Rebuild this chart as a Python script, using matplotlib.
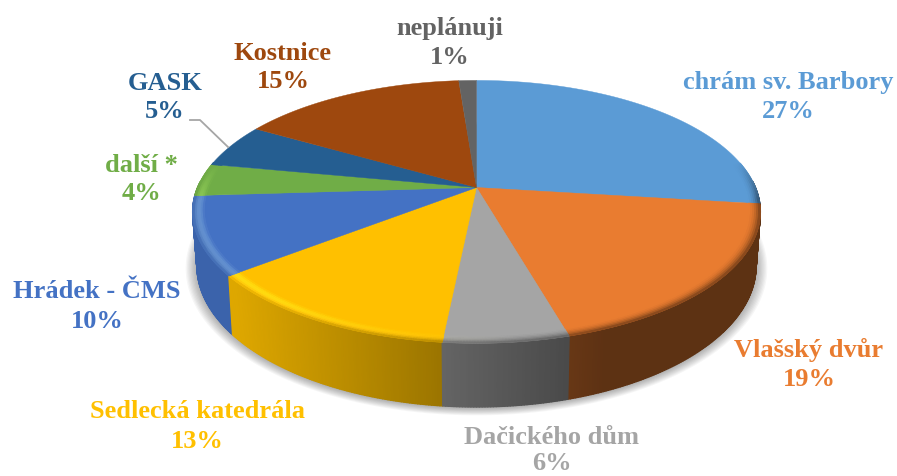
# plot.py
# 3D look pie chart of planned visits, drawn with plain polygons in pixel coordinates.

import numpy as np
import matplotlib
matplotlib.use('Agg')
import matplotlib.pyplot as plt
from matplotlib.collections import PolyCollection
from matplotlib.colors import to_rgb
from matplotlib.patches import Polygon

names = ['chrám sv. Barbory', 'Vlašský dvůr', 'Dačického dům', 'Sedlecká katedrála',
         'Hrádek - ČMS', 'další *', 'GASK', 'Kostnice', 'neplánuji']
# slice sizes, the labels show them rounded
shares = [27.0, 18.6, 6.0, 12.8, 9.6, 4.0, 5.4, 15.4, 1.2]
percent_labels = ['27%', '19%', '6%', '13%', '10%', '4%', '5%', '15%', '1%']
colors = ['#5B9BD5', '#E97C30', '#A5A5A5', '#FFC000', '#4472C4',
          '#70AD47', '#255E91', '#9E480E', '#636363']
label_x = [788, 809, 552, 197, 97, 141, 165, 283, 450]
label_y = [82, 349, 437, 411, 291, 164, 82, 52, 27]

# perspective of the disc, in pixels
CX, CY = 476.5, 187.5
RX, RY = 279, 126.9
K = 0.185
DEPTH = 52
BOTTOM_SCALE = 0.985


def project(theta, r=1.0):
    """Projects a point of the pie disc (clockwise from the top) onto the image."""
    x = r * np.sin(theta)
    y = r * np.cos(theta)
    d = 1 + K * y
    return CX + RX * x / d, CY - RY * y / d


def lower(theta):
    """Same point on the lower edge of the side wall."""
    x, y = project(theta)
    d = 1 + K * np.cos(theta)
    return CX + (x - CX) * BOTTOM_SCALE, y + DEPTH / d


def side_factor(x):
    return np.clip(0.87 - (x - 235) * 0.42 / 330, 0.4, 0.87)


def draw_wedge_side(ax, t0, t1, base):
    ts = np.linspace(t0, t1, max(int((t1 - t0) * 120), 2) + 1)
    quads, cols = [], []
    for a, b in zip(ts[:-1], ts[1:]):
        # the back of the wall is hidden behind the top
        if np.cos((a + b) / 2) > 0.05:
            continue
        xa, ya = project(a)
        xb, yb = project(b)
        xc, yc = lower(b)
        xd, yd = lower(a)
        quads.append([(xa, ya), (xb, yb), (xc, yc), (xd, yd)])
        cols.append(base * side_factor((xa + xb) / 2))
    ax.add_collection(PolyCollection(quads, facecolors=cols, edgecolors=cols, linewidths=0.9, zorder=3))


def draw_wedge_rim(ax, t0, t1, base):
    ts = np.linspace(t0, t1, max(int((t1 - t0) * 120), 2) + 1)
    bands = np.linspace(0.96, 1.0, 7)
    quads, cols = [], []
    for a, b in zip(ts[:-1], ts[1:]):
        mid = (a + b) / 2
        weight = np.clip((0.2 - np.cos(mid)) / 0.3, 0, 1)
        if weight == 0:
            continue
        for r0, r1 in zip(bands[:-1], bands[1:]):
            t = ((r0 + r1) / 2 - bands[0]) / (bands[-1] - bands[0])
            xm, _ = project(mid)
            target = base * side_factor(xm)
            glow = np.clip((520 - xm) / 250, 0, 1)
            c = base + (target - base) * t ** 2 * 0.8
            c = c + glow * 0.13 * np.sin(np.pi * t) * np.array([1, 1, 0.5])
            c = base + (c - base) * weight
            quads.append([project(a, r0), project(b, r0), project(b, r1), project(a, r1)])
            cols.append(np.clip(c, 0, 1))
    ax.add_collection(PolyCollection(quads, facecolors=cols, edgecolors=cols, linewidths=0.6, zorder=5))


def main():
    fig = plt.figure(figsize=(8.97, 4.76), dpi=100)
    ax = fig.add_axes([0, 0, 1, 1])
    ax.set_xlim(0, 897)
    ax.set_ylim(476, 0)
    ax.axis('off')

    edges = 2 * np.pi * np.cumsum([0] + shares) / sum(shares)

    # soft shadow under the pie
    around = np.linspace(0, 2 * np.pi, 240)
    bx, by = lower(around)
    for grow in np.linspace(1.0, 1.04, 10):
        pts = np.column_stack([CX + (bx - CX) * grow, CY + 35 + (by - CY - 35) * grow + 1])
        ax.add_patch(Polygon(pts, closed=True, facecolor='#000000', edgecolor='none', alpha=0.035, zorder=1))

    # walls from the back to the front, so nearer slices cover the farther ones
    order = np.argsort(-np.cos((edges[:-1] + edges[1:]) / 2))
    for i in order:
        draw_wedge_side(ax, edges[i], edges[i + 1], np.array(to_rgb(colors[i])))

    for i, color in enumerate(colors):
        ts = np.linspace(edges[i], edges[i + 1], 80)
        xs, ys = project(ts)
        pts = np.column_stack([np.r_[CX, xs], np.r_[CY, ys]])
        ax.add_patch(Polygon(pts, closed=True, facecolor=color, edgecolor=color, linewidth=0.3, zorder=4))
        draw_wedge_rim(ax, edges[i], edges[i + 1], np.array(to_rgb(color)))

    # leader line of the GASK label
    ax.plot([190, 200, 228], [120, 120, 147], color='#A6A6A6', linewidth=1.3, zorder=6)

    for name, pct, color, x, y in zip(names, percent_labels, colors, label_x, label_y):
        ax.text(x, y + 1, name, color=color, ha='center', va='center', fontsize=19,
                fontweight='bold', family='Liberation Serif', zorder=7)
        # keep the lowest label inside the picture
        ax.text(x, min(y + 30, 463), pct, color=color, ha='center', va='center', fontsize=19,
                fontweight='bold', family='Liberation Serif', zorder=7)

    fig.savefig('out.png', dpi=100)


if __name__ == "__main__":
    main()
